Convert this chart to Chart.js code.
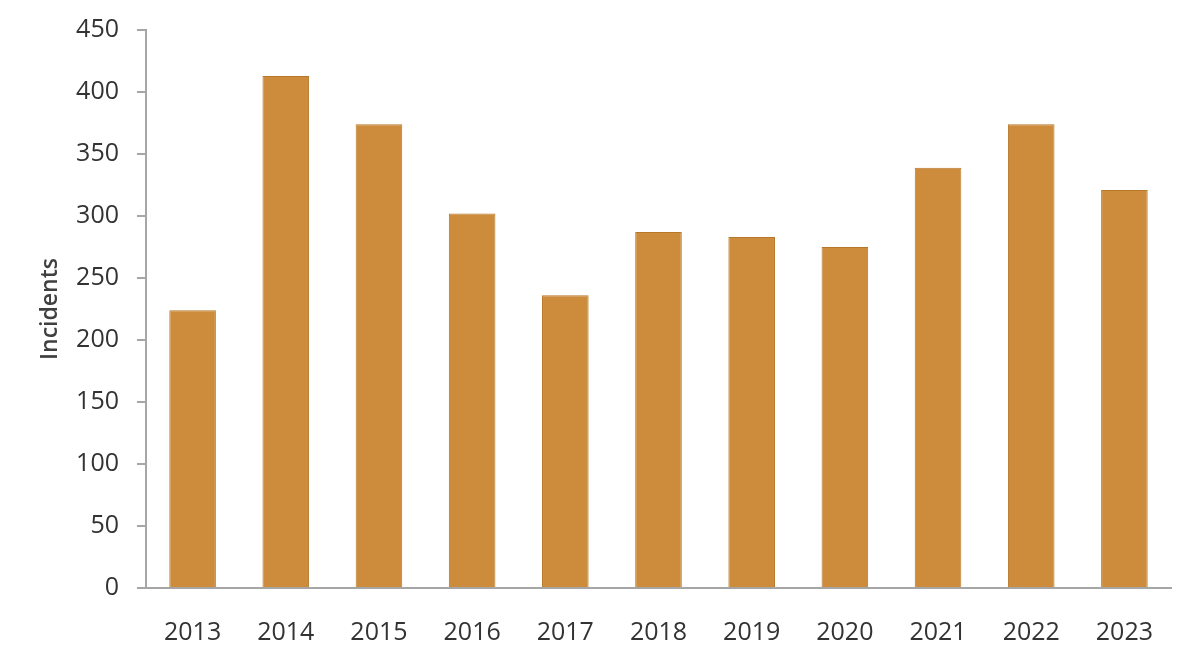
<!DOCTYPE html>
<html>
<head>
<meta charset="utf-8">
<script src="https://cdn.jsdelivr.net/npm/chart.js@4"></script>
<style>
  html,body{margin:0;padding:0;background:#fff;}
  #wrap{width:1200px;height:660px;}
</style>
</head>
<body>
<div id="wrap"><canvas id="grafico" width="1200" height="660"></canvas></div>
<script>
const years = ['2013','2014','2015','2016','2017','2018','2019','2020','2021','2022','2023'];
const incidents = [224, 413, 374, 302, 236, 287, 283, 275, 339, 374, 321];
const yTicks = [0, 50, 100, 150, 200, 250, 300, 350, 400, 450];

const font = {family:'"Open Sans", "Noto Sans", sans-serif', size:25};
const axisGray = '#a6a6a6';

new Chart(grafico, {
  type:'bar',
  data:{
    labels: years,
    datasets:[{
      data: incidents,
      backgroundColor:'#cc8c3c',
      borderColor:'#b67828',
      borderWidth:1,
      barPercentage:0.5,
      categoryPercentage:1
    }]
  },
  options:{
    responsive:false,
    animation:false,
    layout:{padding:{top:30, right:29, left:33, bottom:0}},
    plugins:{legend:{display:false}, tooltip:{enabled:false}},
    scales:{
      x:{
        grid:{display:false},
        border:{color:axisGray, width:2},
        ticks:{font, color:'#333', padding:22, maxRotation:0},
        afterFit(s){ s.height = 72; s.paddingLeft = 0; s.paddingRight = 0; }
      },
      y:{
        min:0, max:450,
        afterBuildTicks(s){ s.ticks = yTicks.map(v=>({value:v})); },
        grid:{display:true, drawOnChartArea:false, drawTicks:true, tickLength:9, color:axisGray, lineWidth:2},
        border:{color:axisGray, width:2},
        ticks:{font, color:'#333', padding:18},
        title:{display:true, text:'Incidents', font:{family:font.family, size:23, weight:'600'}, color:'#404040', padding:{bottom:14}},
        afterFit(s){ s.width = 113; s.paddingTop = 0; s.paddingBottom = 0; }
      }
    }
  }
});
</script>
</body>
</html>
